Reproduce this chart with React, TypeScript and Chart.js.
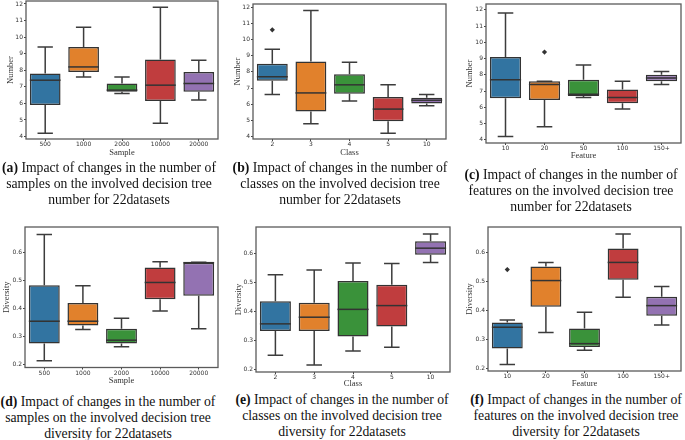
import React, { useEffect, useRef } from "react";
import { Chart, registerables } from "chart.js";
Chart.register(...registerables);

const sampleLabels = ["500", "1000", "2000", "10000", "20000"];
const classLabels = ["2", "3", "4", "5", "10"];
const featureLabels = ["10", "20", "50", "100", "150+"];
const numberTicks = [4, 5, 6, 7, 8, 9, 10, 11, 12];
const diversityTicks = [0.2, 0.3, 0.4, 0.5, 0.6];
const boxColors = ["#3274A1", "#E1812C", "#3A923A", "#C03D3E", "#9372B2"];

// each entry: [min, q1, median, q3, max]
const numberBySample = [
  [4.2, 5.9, 7.4, 7.8, 9.4],
  [7.6, 7.9, 8.2, 9.4, 10.6],
  [6.6, 6.7, 6.8, 7.2, 7.6],
  [4.8, 6.15, 7.1, 8.65, 11.8],
  [6.2, 6.7, 7.2, 7.9, 8.6],
];
const numberByClass = [
  [6.6, 7.45, 7.7, 8.5, 9.4],
  [4.8, 5.55, 6.7, 8.65, 11.8],
  [6.2, 6.65, 7.2, 7.85, 8.6],
  [4.2, 4.95, 5.7, 6.45, 7.2],
  [5.9, 6.05, 6.25, 6.4, 6.6],
];
const numberByClassOutliers = [[10.6], [], [], [], []];
const numberByFeature = [
  [4.2, 6.55, 7.7, 9.1, 11.8],
  [4.8, 6.45, 7.4, 7.6, 7.6],
  [6.6, 6.7, 6.8, 7.7, 8.6],
  [5.9, 6.25, 6.6, 7.1, 7.6],
  [7.4, 7.6, 7.8, 8.0, 8.2],
];
const numberByFeatureOutliers = [[], [9.4], [], [], []];
const diversityBySample = [
  [0.213, 0.275, 0.355, 0.484, 0.666],
  [0.325, 0.34, 0.355, 0.42, 0.482],
  [0.263, 0.275, 0.287, 0.328, 0.366],
  [0.392, 0.434, 0.494, 0.548, 0.568],
  [0.328, 0.446, 0.565, 0.565, 0.567],
];
const diversityByClass = [
  [0.248, 0.331, 0.356, 0.434, 0.525],
  [0.214, 0.331, 0.379, 0.429, 0.542],
  [0.262, 0.312, 0.406, 0.504, 0.566],
  [0.275, 0.347, 0.419, 0.491, 0.564],
  [0.568, 0.594, 0.617, 0.641, 0.666],
];
const diversityByFeature = [
  [0.213, 0.268, 0.342, 0.358, 0.367],
  [0.324, 0.413, 0.504, 0.553, 0.567],
  [0.262, 0.273, 0.285, 0.338, 0.394],
  [0.446, 0.507, 0.567, 0.615, 0.666],
  [0.35, 0.382, 0.417, 0.448, 0.483],
];
const diversityByFeatureOutliers = [[0.542], [], [], [], []];
const noOutliers = [[], [], [], [], []];

const EDGE = "#333333";

function makeBoxPlugin(stats: number[][]) {
  return {
    id: "boxExtras",
    beforeDatasetsDraw(chart: any) {
      const meta = chart.getDatasetMeta(0);
      const ys = chart.scales.y;
      const ctx = chart.ctx;
      ctx.save();
      ctx.strokeStyle = "#3c3c3c";
      ctx.lineWidth = 1.5;
      meta.data.forEach((el: any, i: number) => {
        const s = stats[i];
        const x = el.x;
        const hw = el.width / 4;
        const yMin = ys.getPixelForValue(s[0]);
        const yQ1 = ys.getPixelForValue(s[1]);
        const yQ3 = ys.getPixelForValue(s[3]);
        const yMax = ys.getPixelForValue(s[4]);
        ctx.beginPath();
        ctx.moveTo(x, yQ1);
        ctx.lineTo(x, yMin);
        ctx.moveTo(x, yQ3);
        ctx.lineTo(x, yMax);
        ctx.moveTo(x - hw, yMin);
        ctx.lineTo(x + hw, yMin);
        ctx.moveTo(x - hw, yMax);
        ctx.lineTo(x + hw, yMax);
        ctx.stroke();
      });
      ctx.restore();
    },
    afterDatasetsDraw(chart: any) {
      const meta = chart.getDatasetMeta(0);
      const ys = chart.scales.y;
      const ctx = chart.ctx;
      ctx.save();
      ctx.strokeStyle = EDGE;
      ctx.lineWidth = 1.5;
      meta.data.forEach((el: any, i: number) => {
        const s = stats[i];
        const y = ys.getPixelForValue(s[2]);
        ctx.beginPath();
        ctx.moveTo(el.x - el.width / 2, y);
        ctx.lineTo(el.x + el.width / 2, y);
        ctx.stroke();
      });
      ctx.restore();
    },
    afterDraw(chart: any) {
      const a = chart.chartArea;
      const ctx = chart.ctx;
      ctx.save();
      ctx.strokeStyle = "#5a5a5a";
      ctx.lineWidth = 1.3;
      ctx.strokeRect(a.left, a.top, a.right - a.left, a.bottom - a.top);
      ctx.restore();
    },
  };
}

type PanelProps = {
  left: number;
  top: number;
  w: number;
  h: number;
  area: [number, number, number, number]; // left, right, top, bottom
  labels: string[];
  stats: number[][];
  outliers: number[][];
  yMin: number;
  yMax: number;
  yTicks: number[];
  decimals: number;
  yTitle: string;
  xTitle: string;
  yTitleX: number;
  xTitleY: number;
};

function Panel(p: PanelProps) {
  const ref = useRef<HTMLCanvasElement>(null);
  useEffect(() => {
    const titleSize = 8.5;
    const lh = titleSize * 1.2;
    const [aL, aR, aT, aB] = p.area;
    const outlierPts: any[] = [];
    p.outliers.forEach((arr, i) =>
      arr.forEach((v) => outlierPts.push({ x: p.labels[i], y: v }))
    );
    const tickFont = { family: "DejaVu Sans", size: 6 };
    const titleFont = { family: "Liberation Serif", size: titleSize };
    const gridCfg = {
      display: true,
      drawOnChartArea: false,
      drawTicks: true,
      tickLength: 2,
      color: "#444",
      lineWidth: 1,
      offset: false,
    };
    const chart = new Chart(ref.current!, {
      type: "bar",
      data: {
        labels: p.labels,
        datasets: [
          {
            type: "bar",
            data: p.stats.map((s) => [s[1], s[3]]) as any,
            backgroundColor: boxColors,
            borderColor: EDGE,
            borderWidth: 1.5,
            borderSkipped: false,
            barPercentage: 0.8,
            categoryPercentage: 1,
          } as any,
          {
            type: "scatter",
            data: outlierPts,
            pointStyle: "rectRot",
            radius: 2.6,
            backgroundColor: EDGE,
            borderColor: EDGE,
            borderWidth: 0,
          } as any,
        ],
      },
      options: {
        responsive: false,
        animation: false,
        layout: { padding: { left: 0, right: p.w - aR, top: aT, bottom: 0 } },
        plugins: {
          legend: { display: false },
          tooltip: { enabled: false },
        },
        scales: {
          x: {
            type: "category",
            offset: true,
            grid: gridCfg as any,
            border: { display: false },
            ticks: {
              font: tickFont,
              color: "#333",
              padding: 0,
              maxRotation: 0,
              autoSkip: false,
            },
            title: {
              display: true,
              text: p.xTitle,
              font: titleFont,
              color: "#333",
              padding: { top: 0, bottom: p.h - p.xTitleY - lh / 2 },
            },
            afterFit: (s: any) => {
              s.height = p.h - aB;
              s.paddingLeft = 0;
              s.paddingRight = 0;
            },
          },
          y: {
            type: "linear",
            min: p.yMin,
            max: p.yMax,
            grid: gridCfg as any,
            border: { display: false },
            afterBuildTicks: (s: any) => {
              s.ticks = p.yTicks.map((v) => ({ value: v }));
            },
            ticks: {
              font: tickFont,
              color: "#333",
              padding: 1,
              callback: (v: any) => Number(v).toFixed(p.decimals),
            },
            title: {
              display: true,
              text: p.yTitle,
              font: titleFont,
              color: "#333",
              padding: { top: p.yTitleX - lh / 2, bottom: 0 },
            },
            afterFit: (s: any) => {
              s.width = aL;
              s.paddingTop = 0;
              s.paddingBottom = 0;
            },
          },
        } as any,
      },
      plugins: [makeBoxPlugin(p.stats)],
    });
    return () => chart.destroy();
  }, []);
  return (
    <canvas
      ref={ref}
      width={p.w}
      height={p.h}
      style={{ position: "absolute", left: p.left, top: p.top, width: p.w, height: p.h }}
    />
  );
}

function Caption(props: { left: number; top: number; width: number; letter: string; l1: string; l2: string; l3: string }) {
  return (
    <div
      style={{
        position: "absolute",
        left: props.left,
        top: props.top,
        width: props.width,
        textAlign: "center",
        fontFamily: "'Liberation Serif', 'Times New Roman', serif",
        fontSize: 13.7,
        lineHeight: "16px",
        color: "#111",
        whiteSpace: "nowrap",
      }}
    >
      <b>({props.letter})</b> {props.l1}
      <br />
      {props.l2}
      <br />
      {props.l3}
    </div>
  );
}

export default function App() {
  return (
    <div style={{ position: "fixed", left: 0, top: 0, width: 685, height: 440, background: "#fff", overflow: "hidden" }}>
      <Panel left={0} top={0} w={228} h={162} area={[26, 218, 1, 139]} labels={sampleLabels} stats={numberBySample}
        outliers={noOutliers} yMin={3.85} yMax={12.18} yTicks={numberTicks} decimals={0}
        yTitle="Number" xTitle="Sample" yTitleX={11} xTitleY={153} />
      <Panel left={228} top={0} w={227} h={162} area={[25, 218, 1, 139]} labels={classLabels} stats={numberByClass}
        outliers={numberByClassOutliers} yMin={3.85} yMax={12.2} yTicks={numberTicks} decimals={0}
        yTitle="Number" xTitle="Class" yTitleX={10} xTitleY={153} />
      <Panel left={455} top={0} w={230} h={166} area={[31, 228, 1, 143]} labels={featureLabels} stats={numberByFeature}
        outliers={numberByFeatureOutliers} yMin={3.8} yMax={12.36} yTicks={numberTicks} decimals={0}
        yTitle="Number" xTitle="Feature" yTitleX={15} xTitleY={155.5} />
      <Panel left={0} top={220} w={228} h={170} area={[25, 218, 7, 147.5]} labels={sampleLabels} stats={diversityBySample}
        outliers={noOutliers} yMin={0.189} yMax={0.693} yTicks={diversityTicks} decimals={1}
        yTitle="Diversity" xTitle="Sample" yTitleX={7} xTitleY={160.5} />
      <Panel left={228} top={220} w={227} h={170} area={[28, 222, 7, 152]} labels={classLabels} stats={diversityByClass}
        outliers={noOutliers} yMin={0.19} yMax={0.69} yTicks={diversityTicks} decimals={1}
        yTitle="Diversity" xTitle="Class" yTitleX={11} xTitleY={164} />
      <Panel left={455} top={220} w={230} h={170} area={[33, 229, 7, 151]} labels={featureLabels} stats={diversityByFeature}
        outliers={diversityByFeatureOutliers} yMin={0.19} yMax={0.69} yTicks={diversityTicks} decimals={1}
        yTitle="Diversity" xTitle="Feature" yTitleX={15} xTitleY={163.5} />
      <Caption left={0} top={160} width={218} letter="a" l1="Impact of changes in the number of" l2="samples on the involved decision tree" l3="number for 22datasets" />
      <Caption left={230} top={160} width={220} letter="b" l1="Impact of changes in the number of" l2="classes on the involved decision tree" l3="number for 22datasets" />
      <Caption left={461} top={167} width={220} letter="c" l1="Impact of changes in the number of" l2="features on the involved decision tree" l3="number for 22datasets" />
      <Caption left={0} top={394} width={216} letter="d" l1="Impact of changes in the number of" l2="samples on the involved decision tree" l3="diversity for 22datasets" />
      <Caption left={232} top={392} width={220} letter="e" l1="Impact of changes in the number of" l2="classes on the involved decision tree" l3="diversity for 22datasets" />
      <Caption left={466} top={392} width={220} letter="f" l1="Impact of changes in the number of" l2="features on the involved decision tree" l3="diversity for 22datasets" />
    </div>
  );
}
